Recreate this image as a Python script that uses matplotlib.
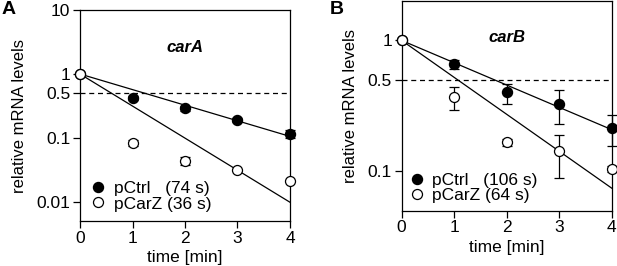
import numpy as np
import matplotlib
matplotlib.use("Agg")
import matplotlib.pyplot as plt
from matplotlib.lines import Line2D

plt.rcParams['font.family'] = ['Liberation Sans', 'DejaVu Sans']

time = [0, 1, 2, 3, 4]

# Panel A (carA)
a_ctrl = [1.0, 0.425, 0.292, 0.192, 0.117]
a_ctrl_err = [0.0, 0.03, 0.025, 0.015, 0.018]
a_carz = [1.0, 0.0846, 0.044, 0.032, 0.021]
a_carz_err = [0.0, 0.009, 0.006, 0.0, 0.0]
a_halflife = [74, 36]  # seconds: pCtrl, pCarZ

# Panel B (carB)
b_ctrl = [1.0, 0.655, 0.405, 0.326, 0.213]
b_ctrl_lo = [0.0, 0.048, 0.077, 0.095, 0.058]
b_ctrl_hi = [0.0, 0.057, 0.061, 0.093, 0.057]
b_carz = [1.0, 0.368, 0.167, 0.142, 0.104]
b_carz_lo = [0.0, 0.073, 0.01, 0.053, 0.006]
b_carz_hi = [0.0, 0.072, 0.01, 0.048, 0.006]
b_halflife = [106, 64]

legend_a = ["pCtrl   (74 s)", "pCarZ (36 s)"]
legend_b = ["pCtrl   (106 s)", "pCarZ (64 s)"]

fig = plt.figure(figsize=(6.17, 2.66), dpi=100)
axA = fig.add_axes([0.1297, 0.169, 0.3403, 0.793])
axB = fig.add_axes([0.651, 0.208, 0.3404, 0.788])

FS = 12.5
ms = 7.2

def panel(ax, ctrl, ctrl_err, carz, carz_err, hls, ylim, yticks, yticklabels, gene, labels, leg_anchor):
    tfit = np.linspace(0, 4, 100)
    for hl in hls:
        ax.plot(tfit, 2 ** (-tfit * 60 / hl), color='black', lw=0.9, zorder=2)
    ax.axhline(0.5, color='black', lw=0.9, ls=(0, (4, 3)), zorder=1)
    ax.errorbar(time, ctrl, yerr=ctrl_err, fmt='o', color='black', mfc='black', mec='black',
                ms=ms, capsize=3.5, elinewidth=0.9, capthick=0.9, zorder=3, clip_on=False)
    ax.errorbar(time, carz, yerr=carz_err, fmt='o', color='black', mfc='white', mec='black',
                ms=ms, mew=0.9, capsize=3.5, elinewidth=0.9, capthick=0.9, zorder=4, clip_on=False)
    ax.set_yscale('log')
    ax.set_ylim(*ylim)
    ax.set_xlim(0, 4)
    ax.set_yticks(yticks)
    ax.set_yticklabels(yticklabels)
    ax.yaxis.set_minor_locator(matplotlib.ticker.NullLocator())
    ax.set_xticks(time)
    ax.tick_params(direction='out', length=5, width=0.9, labelsize=FS, pad=2)
    for s in ax.spines.values():
        s.set_linewidth(0.9)
    ax.set_xlabel('time [min]', fontsize=FS, labelpad=3)
    ax.set_ylabel('relative mRNA levels', fontsize=FS - 0.5, labelpad=7)
    ax.text(0.5, 0.825, gene, transform=ax.transAxes, fontsize=FS - 0.5, fontweight='bold',
            fontstyle='italic', ha='center', va='center')
    handles = [Line2D([], [], marker='o', ls='none', mfc='black', mec='black', ms=ms),
               Line2D([], [], marker='o', ls='none', mfc='white', mec='black', ms=ms, mew=0.9)]
    ax.legend(handles, labels, loc='lower left', bbox_to_anchor=leg_anchor, frameon=False,
              fontsize=FS, handlelength=1.0, handletextpad=0.4, labelspacing=0.0, borderpad=0,
              borderaxespad=0)

panel(axA, a_ctrl, a_ctrl_err, a_carz, a_carz_err, a_halflife, (0.005, 10),
      [0.01, 0.1, 0.5, 1, 10], ['0.01', '0.1', '0.5', '1', '10'], 'carA', legend_a, (0.045, 0.045))
panel(axB, b_ctrl, [b_ctrl_lo, b_ctrl_hi], b_carz, [b_carz_lo, b_carz_hi], b_halflife, (0.05, 2),
      [0.1, 0.5, 1], ['0.1', '0.5', '1'], 'carB', legend_b, (0.03, 0.035))

fig.text(0.002, 0.995, 'A', fontsize=14, fontweight='bold', ha='left', va='top')
fig.text(0.534, 0.995, 'B', fontsize=14, fontweight='bold', ha='left', va='top')

fig.savefig('out.png', dpi=100)
